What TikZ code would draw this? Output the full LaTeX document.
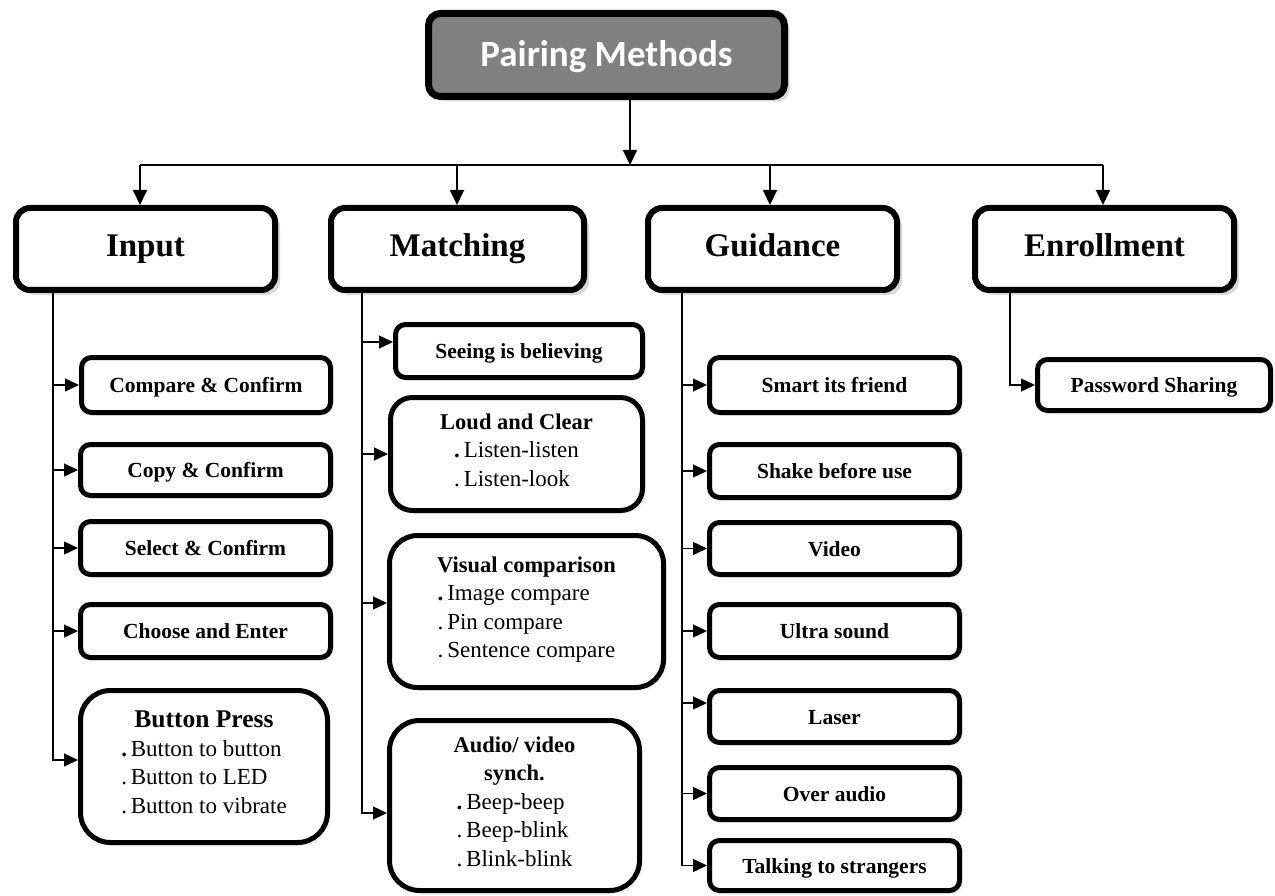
\documentclass[tikz,border=0pt]{standalone}
\usepackage{fontspec}
\setmainfont{Liberation Serif}
\newfontfamily\calibfont{Carlito}
\usetikzlibrary{arrows.meta,shadows}
\newcommand\hdfont{\fontsize{33}{38}\selectfont\bfseries}
\newcommand\sbfont{\fontsize{21.5}{28.5}\selectfont}
\newcommand\ttlfont{\fontsize{22.5}{28.5}\selectfont\bfseries}
\newcommand\lblk[1]{{\fontsize{23}{28.5}\selectfont\begin{tabular}[t]{@{}l@{}}#1\end{tabular}}}
\begin{document}
\begin{tikzpicture}[x=1pt,y=-1pt,
  topbox/.style={draw=black,line width=7pt,rounded corners=12pt,fill=black!50,
    text=white,font=\calibfont\fontsize{37}{40}\selectfont\bfseries,
    drop shadow={shadow xshift=5pt,shadow yshift=-5pt,fill=black!30},
    minimum width=356pt,minimum height=83pt,inner sep=0pt,
    text height=24pt,text depth=0pt},
  headbox/.style={draw=black,line width=6pt,rounded corners=14pt,fill=white,
    font=\hdfont,
    drop shadow={shadow xshift=5pt,shadow yshift=-5pt,fill=black!30},
    minimum height=82pt,inner sep=0pt,text height=22pt,text depth=6pt},
  subbox/.style={draw=black,line width=5pt,rounded corners=10pt,fill=white,
    font=\sbfont\bfseries,
    drop shadow={shadow xshift=3pt,shadow yshift=-3pt,fill=black!15},
    minimum width=250pt,inner sep=0pt,text height=15pt,text depth=0pt},
  multibox/.style={draw=black,line width=5pt,rounded corners=28pt,fill=white,
    font=\sbfont,align=center,
    drop shadow={shadow xshift=3pt,shadow yshift=-3pt,fill=black!15},
    inner sep=0pt},
  mainarr/.style={line width=2pt,-{Triangle[length=15pt,width=14pt]}},
  subarr/.style={line width=1.4pt,-{Triangle[length=14pt,width=13pt]}}
]
\useasboundingbox (0,0) rectangle (1275,896);

% top
\node[topbox] (top) at (606.5,55) {Pairing Methods};

% headings
\node[headbox,minimum width=259pt] (in) at (145.5,249) {Input};
\node[headbox,minimum width=253pt] (mt) at (457.5,249) {Matching};
\node[headbox,minimum width=249pt] (gd) at (772.5,249) {Guidance};
\node[headbox,minimum width=259pt] (en) at (1104.5,249) {Enrollment};

% main connectors
\coordinate (tj) at (630,165);
\coordinate (j1) at (140,165);
\coordinate (j2) at (457,165);
\coordinate (j3) at (770,165);
\coordinate (j4) at (1103,165);
\draw[mainarr] (top.south -| tj) -- (tj);
\draw[line width=1.8pt] (j1) -- (j4);
\draw[mainarr] (j1) -- (j1 |- in.north);
\draw[mainarr] (j2) -- (j2 |- mt.north);
\draw[mainarr] (j3) -- (j3 |- gd.north);
\draw[mainarr] (j4) -- (j4 |- en.north);

% Input column
\node[subbox,minimum width=249pt,minimum height=55pt] (cmp) at (206,385) {Compare \& Confirm};
\node[subbox,minimum height=51pt] (cpy) at (205.5,470) {Copy \& Confirm};
\node[subbox,minimum height=53pt] (sel) at (205.5,548) {Select \& Confirm};
\node[subbox,minimum height=53pt] (cho) at (205.5,631) {Choose and Enter};
\node[multibox,rounded corners=30pt,minimum width=247pt,minimum height=152pt] (btn) at (204,766.5)
  {{\fontsize{25.5}{28.5}\selectfont\bfseries Button Press}\\\lblk{\textbf{.}\,Button to button\\.\,Button to LED\\.\,Button to vibrate}};

\coordinate (inL) at (53,293);
\draw[subarr] (inL) |- (cmp.west);
\draw[subarr] (inL) |- (cpy.west);
\draw[subarr] (inL) |- (sel.west);
\draw[subarr] (inL) |- (cho.west);
\draw[subarr] (inL) |- ([yshift=6.5pt]btn.west);

% Matching column
\node[subbox,minimum width=247pt,minimum height=53pt] (see) at (519,351) {Seeing is believing};
\node[multibox,rounded corners=22pt,minimum width=252pt,minimum height=113pt] (loud) at (516.5,454)
  {{\ttlfont Loud and Clear}\\\lblk{\textbf{.}\,Listen-listen\\.\,Listen-look}};
\node[multibox,rounded corners=28pt,minimum width=274pt,minimum height=152pt] (vis) at (526.5,611.5)
  {{\ttlfont Visual comparison}\\\lblk{\textbf{.}\,Image compare\\.\,Pin compare\\.\,Sentence compare}};
\node[multibox,rounded corners=30pt,minimum width=250pt,minimum height=170pt] (aud) at (514.5,805.5)
  {{\ttlfont Audio/ video}\\{\ttlfont synch.}\\\lblk{\textbf{.}\,Beep-beep\\.\,Beep-blink\\.\,Blink-blink}};

\coordinate (mtL) at (362,293);
\draw[subarr] (mtL) |- ([yshift=9pt]see.west);
\draw[subarr] (mtL) |- (loud.west);
\draw[subarr] (mtL) |- ([yshift=8.5pt]vis.west);
\draw[subarr] (mtL) |- ([yshift=-7.5pt]aud.west);

% Guidance column
\node[subbox,minimum height=55pt] (smt) at (834.5,385) {Smart its friend};
\node[subbox,minimum height=53pt] (shk) at (834.5,471) {Shake before use};
\node[subbox,minimum height=52pt] (vid) at (834.5,548.5) {Video};
\node[subbox,minimum height=53pt] (ult) at (834.5,631) {Ultra sound};
\node[subbox,minimum height=52pt] (las) at (834.5,716.5) {Laser};
\node[subbox,minimum height=52pt] (ovr) at (834.5,793.5) {Over audio};
\node[subbox,minimum height=50pt] (tlk) at (834.5,865.5) {Talking to strangers};

\coordinate (gdL) at (682,293);
\draw[subarr] (gdL) |- (smt.west);
\draw[subarr] (gdL) |- (shk.west);
\draw[subarr] (gdL) |- (vid.west);
\draw[subarr] (gdL) |- (ult.west);
\draw[subarr] (gdL) |- ([yshift=13.5pt]las.west);
\draw[subarr] (gdL) |- (ovr.west);
\draw[subarr] (gdL) |- (tlk.west);

% Enrollment column
\node[subbox,minimum width=233pt,minimum height=51pt] (pwd) at (1154,385) {Password Sharing};
\coordinate (enL) at (1010,293);
\draw[subarr] (enL) |- (pwd.west);

\end{tikzpicture}
\end{document}
